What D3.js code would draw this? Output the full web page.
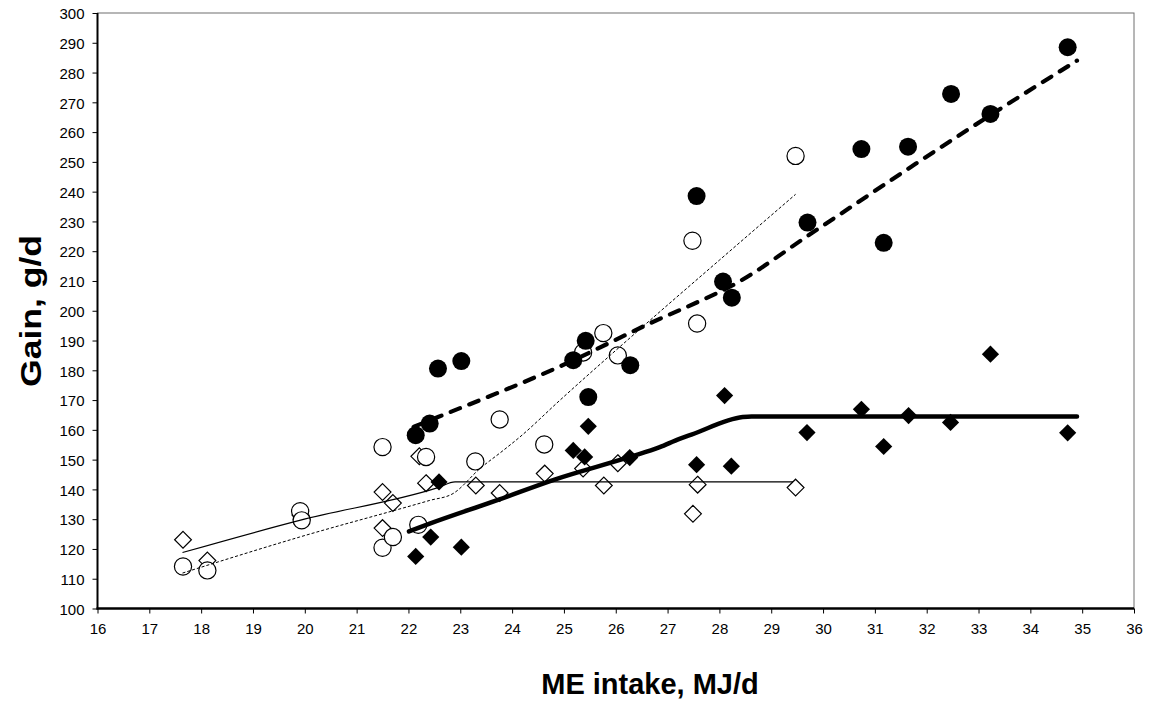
<!DOCTYPE html>
<html>
<head>
<meta charset="utf-8">
<script src="https://cdn.jsdelivr.net/npm/d3@7"></script>
<style>
  html, body { margin: 0; padding: 0; background: #fff; }
  svg { display: block; }
  text { font-family: "Liberation Sans", Arial, sans-serif; fill: #000; }
</style>
</head>
<body>
<svg id="chart" width="1156" height="704"></svg>
<script>
// Axis ticks
const xTicks = d3.range(16, 37, 1);
const yTicks = d3.range(100, 301, 10);

// Filled circles
const filledCircleX = [22.14, 22.41, 22.57, 23.02, 25.18, 25.42, 25.47, 26.28, 27.56, 28.07, 28.24, 29.70, 30.74, 31.17, 31.64, 32.47, 33.23, 34.72];
const filledCircleY = [158.2, 162.1, 180.6, 183.1, 183.4, 189.9, 171.0, 181.7, 238.5, 209.8, 204.4, 229.6, 254.3, 222.8, 255.1, 272.8, 266.1, 288.5];

// Open circles
const openCircleX = [17.65, 18.12, 19.91, 19.94, 21.50, 21.50, 21.70, 22.19, 22.34, 23.29, 23.76, 24.62, 25.37, 25.76, 26.04, 27.48, 27.57, 29.47];
const openCircleY = [114.1, 112.8, 132.7, 129.6, 154.2, 120.4, 124.0, 128.1, 150.9, 149.4, 163.5, 155.1, 186.0, 192.5, 185.0, 223.5, 195.7, 252.0];

// Filled diamonds
const filledDiamondX = [22.14, 22.43, 22.59, 23.02, 25.18, 25.40, 25.47, 26.27, 27.56, 28.10, 28.23, 29.69, 30.74, 31.17, 31.65, 32.46, 33.23, 34.72];
const filledDiamondY = [117.5, 124.0, 142.5, 120.6, 153.1, 150.9, 161.2, 150.7, 148.3, 171.5, 147.8, 159.1, 166.9, 154.4, 164.8, 162.5, 185.4, 159.0];

// Open diamonds
const openDiamondX = [17.65, 18.12, 19.92, 19.94, 21.50, 21.50, 21.70, 22.21, 22.34, 23.30, 23.76, 24.63, 25.37, 25.77, 26.04, 27.49, 27.58, 29.47];
const openDiamondY = [123.1, 116.1, 131.3, 130.0, 139.1, 127.0, 135.4, 151.1, 142.1, 141.3, 138.8, 145.3, 147.0, 141.3, 148.8, 131.8, 141.6, 140.6];

// Fitted response curves
const filledCircleFitX = [22.10, 22.57, 25.05, 26.65, 28.00, 28.14, 29.87, 31.80, 33.23, 34.90];
const filledCircleFitY = [161.0, 164.3, 182.3, 195.7, 206.3, 207.5, 227.1, 249.5, 265.7, 284.0];

const openCircleFitX = [17.64, 19.90, 22.41, 22.86, 23.38, 23.83, 24.15, 24.92, 26.59, 28.00, 29.47];
const openCircleFitY = [111.9, 124.0, 136.3, 138.6, 147.0, 153.1, 157.6, 169.9, 195.7, 217.0, 239.1];

const filledDiamondFitX = [22.01, 22.41, 23.70, 24.82, 26.27, 26.85, 27.23, 27.46, 28.45, 28.62, 34.90];
const filledDiamondFitY = [125.9, 128.5, 136.3, 143.3, 150.9, 154.2, 157.0, 158.4, 164.3, 164.5, 164.5];

const openDiamondFitX = [17.64, 19.90, 22.57, 22.90, 29.42];
const openDiamondFitY = [118.8, 129.6, 140.6, 142.5, 142.5];

const zip = (xs, ys) => xs.map((v, i) => ({ x: v, y: ys[i] }));

const svg = d3.select("#chart");
const plotLeft = 97.5, plotRight = 1134, plotTop = 13, plotBottom = 608.5;

const x = d3.scaleLinear().domain([16, 36]).range([plotLeft, plotRight]);
const y = d3.scaleLinear().domain([100, 300]).range([plotBottom, plotTop]);

// Plot frame (light top/right border)
svg.append("rect")
  .attr("x", plotLeft).attr("y", plotTop)
  .attr("width", plotRight - plotLeft).attr("height", plotBottom - plotTop)
  .attr("fill", "none").attr("stroke", "#6e6e6e").attr("stroke-width", 1);

// Y axis
const yAxis = svg.append("g")
  .attr("transform", `translate(${plotLeft},0)`)
  .call(d3.axisLeft(y).tickValues(yTicks).tickSize(5).tickPadding(8).tickFormat(d3.format("d")));
yAxis.select(".domain").remove();
yAxis.selectAll(".tick line").attr("stroke", "#000").attr("stroke-width", 1);
yAxis.selectAll(".tick text").attr("font-size", 15).attr("font-family", "Liberation Sans, Arial, sans-serif").attr("dy", "0.38em");

// X axis
const xAxis = svg.append("g")
  .attr("transform", `translate(0,${plotBottom})`)
  .call(d3.axisBottom(x).tickValues(xTicks).tickSize(5).tickPadding(10).tickFormat(d3.format("d")));
xAxis.select(".domain").remove();
xAxis.selectAll(".tick line").attr("stroke", "#000").attr("stroke-width", 1);
xAxis.selectAll(".tick text").attr("font-size", 15).attr("font-family", "Liberation Sans, Arial, sans-serif");

// Axis lines
svg.append("line").attr("x1", plotLeft).attr("x2", plotLeft).attr("y1", plotTop).attr("y2", plotBottom + 1)
  .attr("stroke", "#000").attr("stroke-width", 2);
svg.append("line").attr("x1", plotLeft - 1).attr("x2", plotRight).attr("y1", plotBottom).attr("y2", plotBottom)
  .attr("stroke", "#000").attr("stroke-width", 2.5);

// Axis titles
svg.append("text")
  .attr("x", 650).attr("y", 694)
  .attr("text-anchor", "middle")
  .attr("font-size", 29).attr("font-weight", "bold")
  .text("ME intake, MJ/d");

svg.append("text")
  .attr("transform", "translate(41,311) rotate(-90)")
  .attr("text-anchor", "middle")
  .attr("font-size", 30).attr("font-weight", "bold")
  .attr("textLength", 152).attr("lengthAdjust", "spacingAndGlyphs")
  .text("Gain, g/d");

const plot = svg.append("g");

function diamondPath(r) {
  return `M0,${-r}L${r},0L0,${r}L${-r},0Z`;
}

// Markers
plot.selectAll(".od").data(zip(openDiamondX, openDiamondY)).join("path")
  .attr("transform", d => `translate(${x(d.x)},${y(d.y)})`)
  .attr("d", diamondPath(8.4))
  .attr("fill", "#fff").attr("stroke", "#000").attr("stroke-width", 1.2);

plot.selectAll(".oc").data(zip(openCircleX, openCircleY)).join("circle")
  .attr("cx", d => x(d.x)).attr("cy", d => y(d.y)).attr("r", 8.6)
  .attr("fill", "#fff").attr("stroke", "#000").attr("stroke-width", 1.2);

plot.selectAll(".fd").data(zip(filledDiamondX, filledDiamondY)).join("path")
  .attr("transform", d => `translate(${x(d.x)},${y(d.y)})`)
  .attr("d", diamondPath(8.6))
  .attr("fill", "#000");

plot.selectAll(".fc").data(zip(filledCircleX, filledCircleY)).join("circle")
  .attr("cx", d => x(d.x)).attr("cy", d => y(d.y)).attr("r", 9)
  .attr("fill", "#000");

// Curves
const line = d3.line().x(d => x(d.x)).y(d => y(d.y)).curve(d3.curveMonotoneX);

plot.append("path").datum(zip(openDiamondFitX, openDiamondFitY))
  .attr("d", line).attr("fill", "none").attr("stroke", "#000").attr("stroke-width", 1.2);

plot.append("path").datum(zip(openCircleFitX, openCircleFitY))
  .attr("d", line).attr("fill", "none").attr("stroke", "#000").attr("stroke-width", 1)
  .attr("stroke-dasharray", "3,2");

plot.append("path").datum(zip(filledDiamondFitX, filledDiamondFitY))
  .attr("d", line).attr("fill", "none").attr("stroke", "#000").attr("stroke-width", 4.5)
  .attr("stroke-linecap", "round").attr("stroke-linejoin", "round");

plot.append("path").datum(zip(filledCircleFitX, filledCircleFitY))
  .attr("d", line).attr("fill", "none").attr("stroke", "#000").attr("stroke-width", 4.2)
  .attr("stroke-dasharray", "10,10").attr("stroke-linecap", "round");
</script>
</body>
</html>
